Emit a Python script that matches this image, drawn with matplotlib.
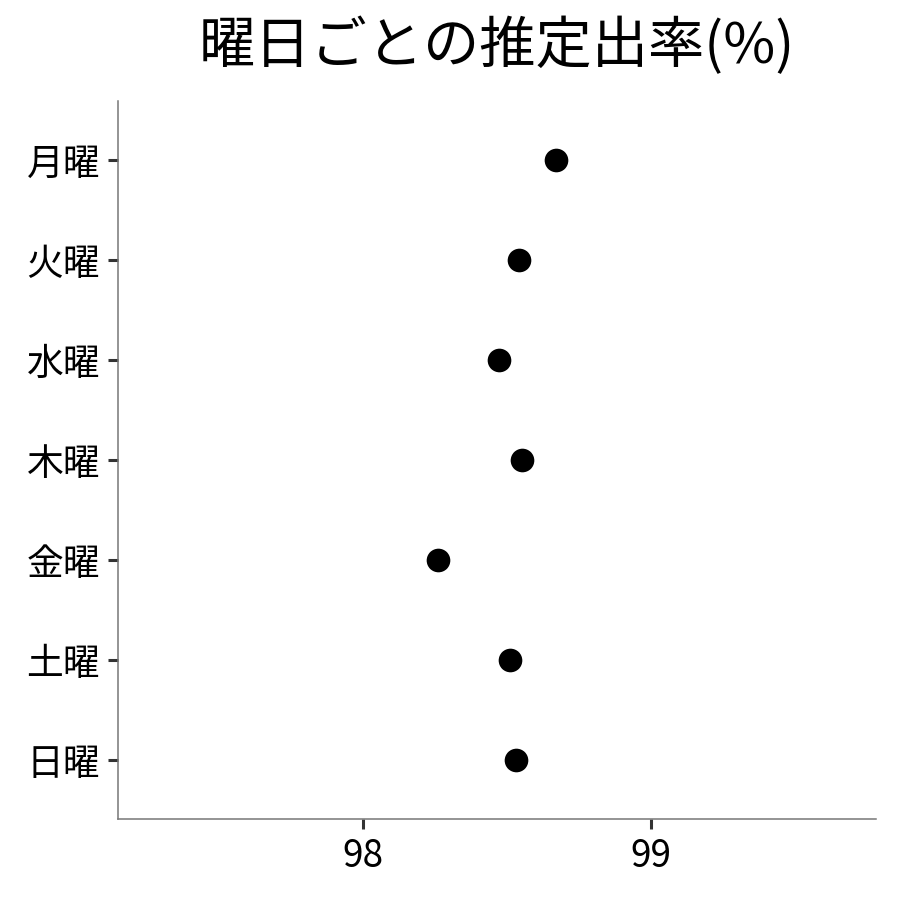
import matplotlib
matplotlib.use('Agg')
import matplotlib.pyplot as plt

plt.rcParams['font.family'] = ['Noto Sans CJK JP', 'DejaVu Sans']

# days from top to bottom, estimated rate (%)
days = ['月曜', '火曜', '水曜', '木曜', '金曜', '土曜', '日曜']
rates = [98.67, 98.54, 98.47, 98.55, 98.26, 98.51, 98.53]
xticks = [98, 99]

fig = plt.figure(figsize=(9, 9), dpi=100)
ax = fig.add_axes([118 / 900, 81 / 900, 758 / 900, 718 / 900])

ypos = list(range(len(days), 0, -1))
ax.scatter(rates, ypos, s=290, color='black', zorder=3, linewidths=0)

ax.set_xlim(97.149, 99.78)
ax.set_ylim(0.41, 7.59)
ax.set_xticks(xticks)
ax.set_xticklabels([str(t) for t in xticks])
ax.set_yticks(ypos)
ax.set_yticklabels(days)

for side in ['top', 'right']:
    ax.spines[side].set_visible(False)
for side in ['left', 'bottom']:
    ax.spines[side].set_color('#777777')
    ax.spines[side].set_linewidth(1.1)

ax.tick_params(axis='both', direction='out', length=7, width=2.2,
               color='#333333', labelsize=26.5, labelcolor='black', pad=6)

# title centred over the panel, as ggplot does
fig.text((118 + 876) / 2 / 900, 0.948, '曜日ごとの推定出率(%)', ha='center',
         va='center', fontsize=40.5)

fig.savefig('out.png', dpi=100)
